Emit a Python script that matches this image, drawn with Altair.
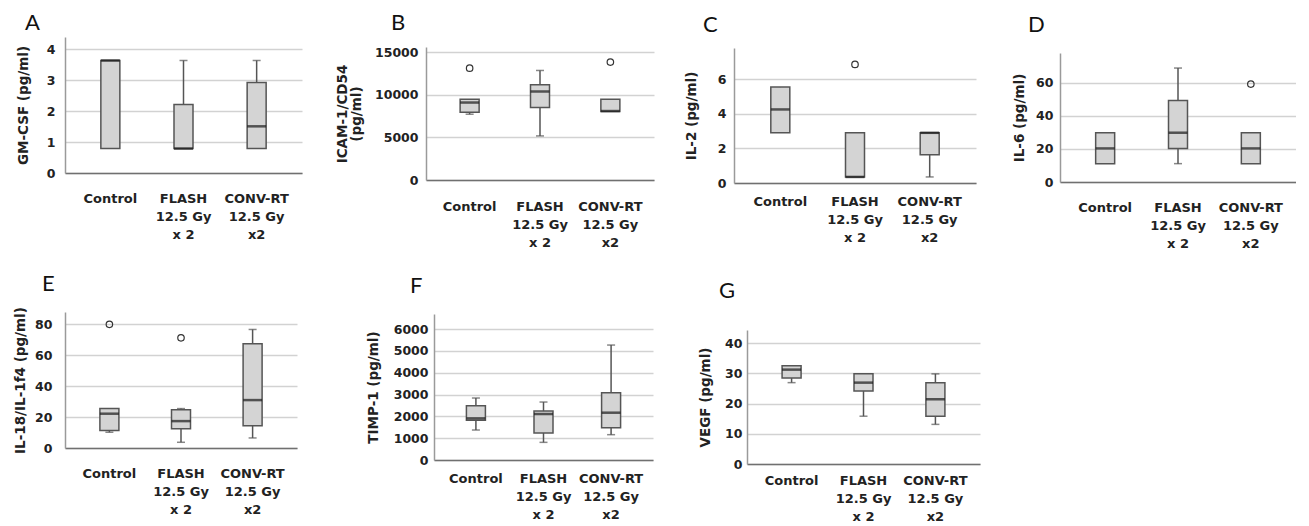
import altair as alt
import pandas as pd

# ---------------- data ----------------
groups = ["Control", "FLASH\n12.5 Gy\nx 2", "CONV-RT\n12.5 Gy\nx2"]

# A: GM-CSF (pg/ml)
gm_low = [0.79, 0.79, 0.79]
gm_q1 = [0.79, 0.79, 0.79]
gm_med = [3.64, 0.79, 1.51]
gm_q3 = [3.64, 2.22, 2.93]
gm_high = [3.64, 3.64, 3.64]
gm_out_groups = []
gm_out_vals = []

# B: ICAM-1/CD54 (pg/ml)
icam_low = [7716, 5170, 8030]
icam_q1 = [7951, 8500, 8030]
icam_med = [9087, 10380, 8090]
icam_q3 = [9479, 11163, 9479]
icam_high = [9479, 12848, 9479]
icam_out_groups = [groups[0], groups[2]]
icam_out_vals = [13121, 13827]

# C: IL-2 (pg/ml)
il2_low = [2.90, 0.35, 0.35]
il2_q1 = [2.90, 0.35, 1.63]
il2_med = [4.25, 0.35, 2.90]
il2_q3 = [5.54, 2.90, 2.90]
il2_high = [5.54, 2.90, 2.90]
il2_out_groups = [groups[1]]
il2_out_vals = [6.85]

# D: IL-6 (pg/ml)
il6_low = [11.1, 11.1, 11.1]
il6_q1 = [11.1, 20.3, 11.1]
il6_med = [20.3, 29.8, 20.3]
il6_q3 = [29.8, 49.3, 29.8]
il6_high = [29.8, 68.9, 29.8]
il6_out_groups = [groups[2]]
il6_out_vals = [59.2]

# E: IL-18/IL-1f4 (pg/ml)
il18_low = [10.2, 3.7, 6.5]
il18_q1 = [11.3, 12.4, 14.4]
il18_med = [22.2, 17.4, 31.0]
il18_q3 = [25.5, 24.8, 67.4]
il18_high = [25.5, 25.5, 76.7]
il18_out_groups = [groups[0], groups[1]]
il18_out_vals = [80.0, 71.3]

# F: TIMP-1 (pg/ml)
timp_low = [1374, 809, 1160]
timp_q1 = [1817, 1237, 1481]
timp_med = [1908, 2107, 2168]
timp_q3 = [2489, 2244, 3084]
timp_high = [2840, 2656, 5267]
timp_out_groups = []
timp_out_vals = []

# G: VEGF (pg/ml)
vegf_low = [26.9, 15.8, 13.1]
vegf_q1 = [28.4, 24.1, 15.8]
vegf_med = [31.2, 26.9, 21.4]
vegf_q3 = [32.5, 29.8, 26.9]
vegf_high = [32.5, 29.8, 29.8]
vegf_out_groups = []
vegf_out_vals = []

# ---------------- styling ----------------
FONT = "DejaVu Sans"
LETTER_FONT = "Lato"
LETTER_SIZE = 22
BOX_FILL = "#d4d4d4"
LINE = "#555555"
TEXT = "#222222"


def panel(letter, ytitle, low, q1, med, q3, high, og, ov, ymax, ticks,
          width, row_h, y_top, y_bot, t_offset, t_dx, title_x, lab_pad,
          x_lab_pad):
    box = pd.DataFrame({"group": groups, "low": low, "q1": q1, "med": med,
                        "q3": q3, "high": high})
    caps_g, caps_v = [], []
    for g, lo, a, b, hi in zip(groups, low, q1, q3, high):
        if lo < a:
            caps_g.append(g); caps_v.append(lo)
        if hi > b:
            caps_g.append(g); caps_v.append(hi)
    caps = pd.DataFrame({"group": caps_g, "v": caps_v})
    outs = pd.DataFrame({"group": og, "v": ov})

    xenc = alt.X(
        "group:N", sort=groups,
        scale=alt.Scale(type="band", paddingInner=0.5, paddingOuter=0.37),
        axis=alt.Axis(
            title=None, labelExpr="split(datum.label, '\\n')", labelAngle=0,
            labelAlign="center", labelBaseline="top", labelLineHeight=18,
            labelPadding=x_lab_pad, labelFont=FONT, labelFontSize=13,
            labelFontWeight="bold", labelColor=TEXT, labelLimit=0,
            labelOverlap=False, ticks=False, tickSize=0, grid=False,
            domainColor="#707070", domainWidth=1.5,
            offset=-(row_h - y_bot),
        ),
    )
    yscale = alt.Scale(domain=[0, ymax], nice=False, zero=True,
                       range=[y_bot, y_top])
    yaxis = alt.Axis(
        title=ytitle, titleX=-title_x, values=ticks, format="d",
        grid=True, gridColor="#d2d2d2", gridWidth=1.5,
        domainColor="#9a9a9a", domainWidth=1.5, ticks=False, tickSize=0,
        labelPadding=lab_pad, labelFont=FONT, labelFontSize=12.5,
        labelFontWeight="bold", labelColor=TEXT,
        titleFont=FONT, titleFontSize=13.5, titleFontWeight="bold",
        titleColor=TEXT, titleLineHeight=14,
    )

    def Y(field):
        return alt.Y(field, scale=yscale, axis=yaxis)

    whisk = alt.Chart(box).mark_rule(color=LINE, strokeWidth=1.5).encode(
        x=xenc, y=Y("low:Q"), y2="high:Q")
    bars = alt.Chart(box).mark_bar(size=19, color=BOX_FILL, stroke=LINE,
                                   strokeWidth=1.5).encode(
        x=xenc, y=Y("q1:Q"), y2="q3:Q")
    medians = alt.Chart(box).mark_tick(size=19, thickness=2.5,
                                       color="#1a1a1a").encode(
        x=xenc, y=Y("med:Q"))
    layers = [whisk, bars, medians]
    if len(caps):
        layers.append(alt.Chart(caps).mark_tick(size=8, thickness=1.5,
                                                color=LINE).encode(
            x=xenc, y=Y("v:Q")))
    if len(outs):
        layers.append(alt.Chart(outs).mark_point(
            shape="circle", filled=False, size=42, color="#333333",
            strokeWidth=1.2, opacity=1).encode(x=xenc, y=Y("v:Q")))

    return alt.layer(*layers).properties(
        width=width, height=row_h,
        title=alt.TitleParams(
            text=letter, anchor="start", frame="group", dx=t_dx,
            dy=LETTER_SIZE, offset=t_offset, baseline="alphabetic",
            font=LETTER_FONT, fontSize=LETTER_SIZE, fontWeight="normal",
            color="#111111"),
    )


# row 1: common top at y=37, common bottom at y=183 (height 146)
H1 = 146
A = panel("A", "GM-CSF (pg/ml)", gm_low, gm_q1, gm_med, gm_q3, gm_high,
          gm_out_groups, gm_out_vals, 4.4, [0, 1, 2, 3, 4],
          237, H1, 0, 136, 7, -40, 35, 10, 19)
B = panel("B", ["ICAM-1/CD54", "(pg/ml)"], icam_low, icam_q1, icam_med,
          icam_q3, icam_high, icam_out_groups, icam_out_vals, 15600,
          [0, 5000, 10000, 15000], 228, H1, 10, 143, 7, -35, 77, 8, 20)
C = panel("C", "IL-2 (pg/ml)", il2_low, il2_q1, il2_med, il2_q3, il2_high,
          il2_out_groups, il2_out_vals, 7.8, [0, 2, 4, 6],
          242, H1, 11, 146, 5, -31, 36, 8, 12)
D = panel("D", "IL-6 (pg/ml)", il6_low, il6_q1, il6_med, il6_q3, il6_high,
          il6_out_groups, il6_out_vals, 78, [0, 20, 40, 60],
          236, H1, 16, 145, 5, -32, 34, 7, 19)

# row 2: common top at y=310, common bottom at y=462 (height 152)
H2 = 152
E = panel("E", "IL-18/IL-1f4 (pg/ml)", il18_low, il18_q1, il18_med,
          il18_q3, il18_high, il18_out_groups, il18_out_vals, 88,
          [0, 20, 40, 60, 80], 232, H2, 0, 136, 16, -23, 38, 13, 19)
F = panel("F", "TIMP-1 (pg/ml)", timp_low, timp_q1, timp_med, timp_q3,
          timp_high, timp_out_groups, timp_out_vals, 6690,
          [0, 1000, 2000, 3000, 4000, 5000, 6000], 219, H2, 2, 148,
          19, -24, 54, 6, 12)
G = panel("G", "VEGF (pg/ml)", vegf_low, vegf_q1, vegf_med, vegf_q3,
          vegf_high, vegf_out_groups, vegf_out_vals, 44.3,
          [0, 10, 20, 30, 40], 233, H2, 18, 152, 14, -28, 35, 5, 10)

row1 = alt.hconcat(A, alt.hconcat(B, alt.hconcat(C, D, spacing=36),
                                  spacing=30), spacing=33)
row2 = alt.hconcat(E, alt.hconcat(F, G, spacing=45), spacing=69)

chart = alt.vconcat(row1, row2, spacing=22).properties(
    padding={"left": 12, "top": 12, "right": 0, "bottom": 0},
    background="white",
).configure_view(stroke=None)

chart.save("out.html", embed_options={"renderer": "svg", "actions": False})
